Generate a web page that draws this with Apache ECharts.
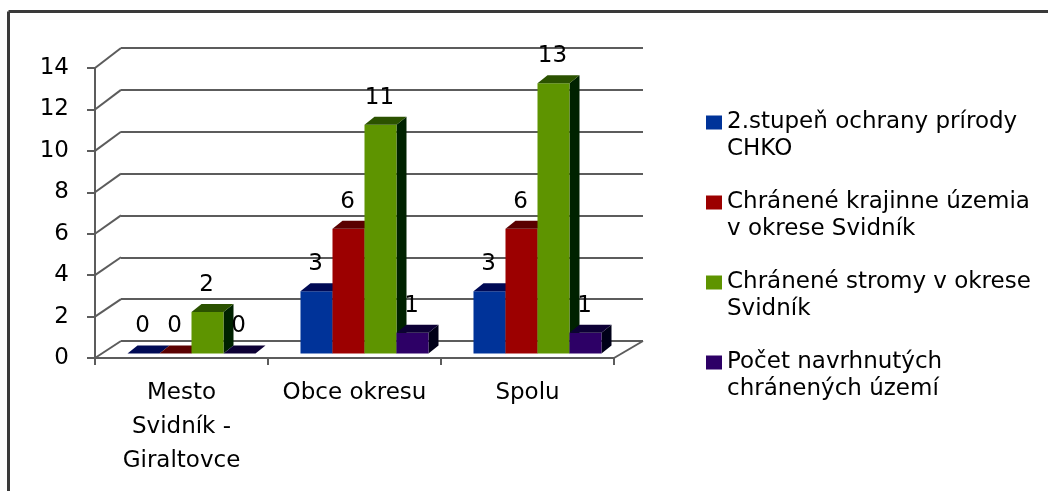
<!DOCTYPE html>
<html>
<head>
<meta charset="utf-8">
<title>Chránené územia - okres Svidník</title>
<script src="https://cdn.jsdelivr.net/npm/echarts@6.0.0/dist/echarts.min.js"></script>
<style>
  html, body { margin: 0; padding: 0; background: #fff; }
  #chart { width: 1048px; height: 491px; }
</style>
</head>
<body>
<div id="chart"></div>
<script>
// data
var categories = ['Mesto\nSvidník -\nGiraltovce', 'Obce okresu', 'Spolu'];
var seriesNames = [
  '2.stupeň ochrany prírody\nCHKO',
  'Chránené krajinne územia\nv okrese Svidník',
  'Chránené stromy v okrese\nSvidník',
  'Počet navrhnutých\nchránených území'
];
var chko = [0, 3, 3];
var krajinne = [0, 6, 6];
var stromy = [2, 11, 13];
var navrhnute = [0, 1, 1];
var yTicks = [0, 2, 4, 6, 8, 10, 12, 14];

// colours: front, top, side
var faces = [
  ['#003399', '#000a55', '#000a30'],
  ['#9c0000', '#5a0000', '#300000'],
  ['#5e9400', '#2b5200', '#002200'],
  ['#2d0066', '#0d0035', '#000018']
];

var FONT = '"DejaVu Sans"';
var FONT_SIZE = 23;
var GRID_LINE = '#5c5c5c';
var BAR_RATIO = 0.185;  // bar width / category width
var DEPTH_X = 10, DEPTH_Y = -8;

var chartDom = document.getElementById('chart');
var myChart = echarts.init(chartDom);

function barRenderer(idx) {
  return function (params, api) {
    var cat = api.value(0);
    var val = api.value(1);
    var top = api.coord([cat, val]);
    var base = api.coord([cat, 0]);
    var band = api.size([1, 0])[0];
    var w = band * BAR_RATIO;
    var xL = top[0] - 2 * w + idx * w;
    var xR = xL + w;
    var yT = top[1], yB = base[1];
    var c = faces[idx];
    return {
      type: 'group',
      children: [
        {
          type: 'polygon',
          shape: { points: [[xR, yT], [xR + DEPTH_X, yT + DEPTH_Y], [xR + DEPTH_X, yB + DEPTH_Y], [xR, yB]] },
          style: { fill: c[2] }
        },
        {
          type: 'rect',
          shape: { x: xL, y: yT, width: w, height: yB - yT },
          style: { fill: c[0] }
        },
        {
          type: 'polygon',
          shape: { points: [[xL, yT], [xR, yT], [xR + DEPTH_X, yT + DEPTH_Y], [xL + DEPTH_X, yT + DEPTH_Y]] },
          style: { fill: c[1] }
        },
        {
          type: 'text',
          style: {
            text: String(val),
            x: xL + w / 2 - 1,
            y: yT - 27,
            align: 'center',
            verticalAlign: 'middle',
            fontSize: FONT_SIZE,
            fontFamily: FONT,
            fill: '#000'
          }
        }
      ]
    };
  };
}

var allValues = [chko, krajinne, stromy, navrhnute];
var series = allValues.map(function (vals, i) {
  return {
    name: seriesNames[i],
    type: 'custom',
    xAxisIndex: 0,
    yAxisIndex: 0,
    z: 5,
    itemStyle: { color: faces[i][0] },
    renderItem: barRenderer(i),
    data: vals.map(function (v, k) { return [k, v]; })
  };
});

var charOption = {
  backgroundColor: '#fff',
  animation: false,
  legend: {
    orient: 'vertical',
    left: 706,
    top: 82,
    padding: 0,
    itemGap: -1,
    icon: 'rect',
    itemWidth: 16,
    itemHeight: 14,
    data: seriesNames,
    // empty first line keeps the square level with the first text line
    formatter: function (name) { return '\n' + name; },
    textStyle: {
      fontSize: FONT_SIZE,
      fontFamily: FONT,
      color: '#000',
      lineHeight: 27
    }
  },
  grid: [
    // bar plane
    { left: 105, right: 424, top: 62.5, bottom: 137.5 },
    // front axes
    { left: 95, right: 434, top: 68, bottom: 133 },
    // back wall
    { left: 121, right: 405, top: 48, bottom: 150 }
  ],
  xAxis: [
    { gridIndex: 0, type: 'category', data: categories, show: false },
    {
      gridIndex: 1, type: 'category', data: categories, boundaryGap: true,
      axisLine: { lineStyle: { color: GRID_LINE, width: 2 } },
      axisTick: { show: true, length: 7, lineStyle: { color: GRID_LINE, width: 2 } },
      axisLabel: { color: '#000', fontSize: FONT_SIZE, fontFamily: FONT, lineHeight: 34, margin: 18, interval: 0 }
    },
    { gridIndex: 2, type: 'category', data: categories, show: false }
  ],
  yAxis: [
    { gridIndex: 0, type: 'value', min: 0, max: 14, interval: 2, show: false },
    {
      gridIndex: 1, type: 'value', min: 0, max: 14, interval: 2,
      axisLine: { show: true, lineStyle: { color: GRID_LINE, width: 2 } },
      axisTick: { show: true, length: 8, lineStyle: { color: GRID_LINE, width: 2 } },
      axisLabel: { color: '#000', fontSize: FONT_SIZE, fontFamily: FONT, margin: 26 },
      splitLine: { show: false }
    },
    {
      gridIndex: 2, type: 'value', min: 0, max: 14, interval: 2,
      axisLine: { show: false }, axisTick: { show: false }, axisLabel: { show: false },
      splitLine: { show: true, lineStyle: { color: GRID_LINE, width: 2 } }
    }
  ],
  series: series
};
myChart.setOption(charOption);

// 3D wall connectors, taken from the axes' own scales
var lineStyle = { stroke: GRID_LINE, lineWidth: 2 };
var c0 = myChart.convertToPixel({ xAxisIndex: 1 }, 0);
var c1 = myChart.convertToPixel({ xAxisIndex: 1 }, 1);
var c2 = myChart.convertToPixel({ xAxisIndex: 1 }, 2);
var frontLeft = c0 - (c1 - c0) / 2;
var frontRight = c2 + (c1 - c0) / 2;
var b0 = myChart.convertToPixel({ xAxisIndex: 2 }, 0);
var b1 = myChart.convertToPixel({ xAxisIndex: 2 }, 1);
var b2 = myChart.convertToPixel({ xAxisIndex: 2 }, 2);
var backLeft = b0 - (b1 - b0) / 2;
var backRight = b2 + (b1 - b0) / 2;

var graphics = yTicks.map(function (v) {
  return {
    type: 'line', z: 1,
    shape: {
      x1: frontLeft, y1: myChart.convertToPixel({ yAxisIndex: 1 }, v),
      x2: backLeft, y2: myChart.convertToPixel({ yAxisIndex: 2 }, v)
    },
    style: lineStyle
  };
});
graphics.push({
  type: 'line', z: 1,
  shape: {
    x1: frontRight, y1: myChart.convertToPixel({ yAxisIndex: 1 }, 0),
    x2: backRight, y2: myChart.convertToPixel({ yAxisIndex: 2 }, 0)
  },
  style: lineStyle
});
// chart frame (left and top edges only are in view)
graphics.push({ type: 'line', shape: { x1: 8.5, y1: 11.5, x2: 1048, y2: 11.5 }, style: { stroke: '#3a3a3a', lineWidth: 3 } });
graphics.push({ type: 'line', shape: { x1: 8.5, y1: 11.5, x2: 8.5, y2: 491 }, style: { stroke: '#3a3a3a', lineWidth: 3 } });

myChart.setOption({ graphic: graphics });
</script>
</body>
</html>
